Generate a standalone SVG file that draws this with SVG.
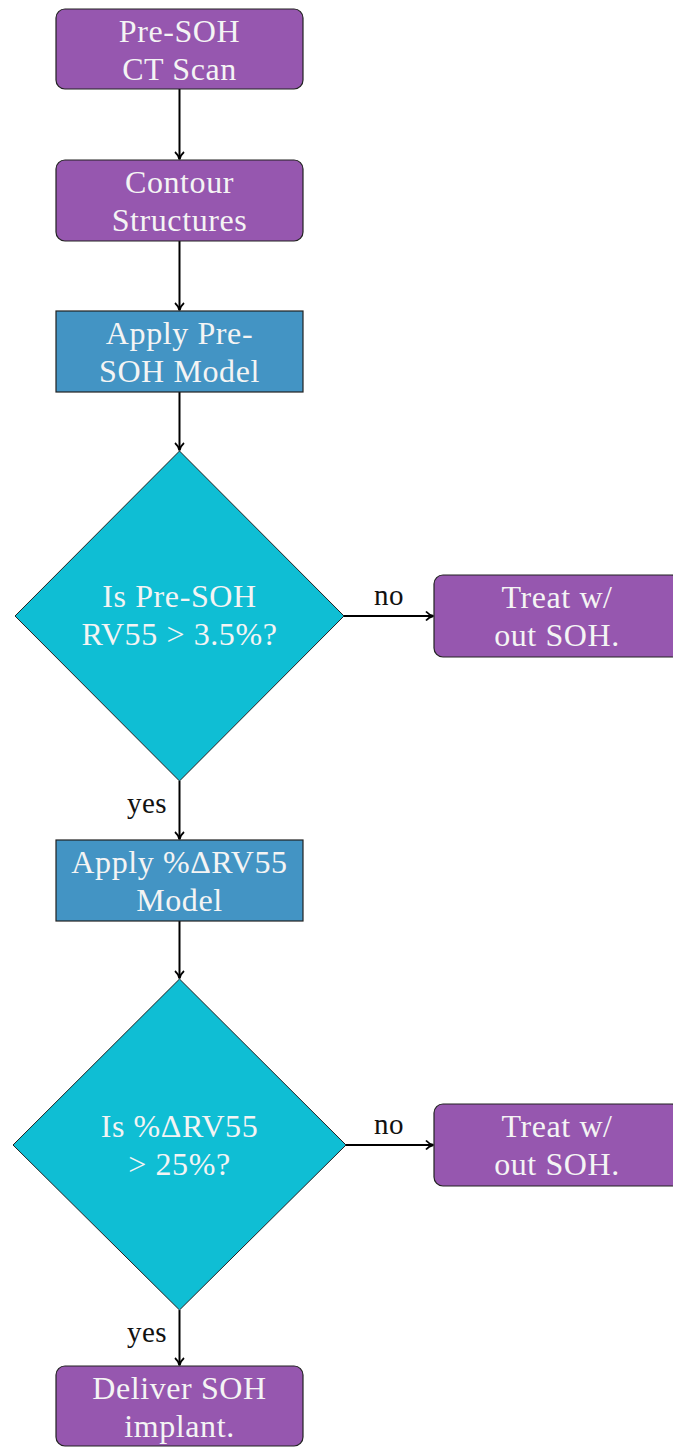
<svg xmlns="http://www.w3.org/2000/svg" width="673" height="1450" viewBox="0 0 673 1450">
<style>
.p{fill:#9657AF;stroke:#222;stroke-width:1.2}
.b{fill:#4394C4;stroke:#222;stroke-width:1.2}
.d{fill:#0FBED4;stroke:#222;stroke-width:1}
.t{font-family:'Liberation Serif','Times New Roman','DejaVu Serif',serif;font-size:32px;letter-spacing:0.6px;fill:#F4F4F4;text-anchor:middle}
.l{font-family:'Liberation Serif','Times New Roman','DejaVu Serif',serif;font-size:29px;letter-spacing:0.4px;fill:#111;text-anchor:middle}
.c{stroke:#000;stroke-width:2;fill:none}
</style>
<defs>
<marker id="ah" markerWidth="12" markerHeight="12" refX="9" refY="6" orient="auto" markerUnits="userSpaceOnUse">
<path d="M2,1.5 Q5,5 9.5,6 Q5,7 2,10.5" fill="none" stroke="#000" stroke-width="1.8"/>
</marker>
</defs>
<g id="connectors">
<line class="c" x1="179.5" y1="89" x2="179.5" y2="159" marker-end="url(#ah)"/>
<line class="c" x1="179.5" y1="241" x2="179.5" y2="310" marker-end="url(#ah)"/>
<line class="c" x1="179.5" y1="392" x2="179.5" y2="450" marker-end="url(#ah)"/>
<line class="c" x1="344" y1="616" x2="433" y2="616" marker-end="url(#ah)"/>
<line class="c" x1="179.5" y1="781" x2="179.5" y2="839" marker-end="url(#ah)"/>
<line class="c" x1="179.5" y1="921" x2="179.5" y2="978" marker-end="url(#ah)"/>
<line class="c" x1="346" y1="1145" x2="433" y2="1145" marker-end="url(#ah)"/>
<line class="c" x1="179.5" y1="1310" x2="179.5" y2="1365" marker-end="url(#ah)"/>
<text class="l" x="389" y="605">no</text>
<text class="l" x="147" y="813">yes</text>
<text class="l" x="389" y="1134">no</text>
<text class="l" x="147" y="1342">yes</text>
</g>
<g id="n1"><rect class="p" x="56" y="9" width="247" height="80" rx="9"/><text class="t" x="179.5" y="42">Pre-SOH</text><text class="t" x="179.5" y="80">CT Scan</text></g>
<g id="n2"><rect class="p" x="56" y="160" width="247" height="81" rx="9"/><text class="t" x="179.5" y="193">Contour</text><text class="t" x="179.5" y="231">Structures</text></g>
<g id="n3"><rect class="b" x="56" y="311" width="247" height="81"/><text class="t" x="179.5" y="344">Apply Pre-</text><text class="t" x="179.5" y="382">SOH Model</text></g>
<g id="n4"><polygon class="d" points="179.5,451 344,616 179.5,781 15,616"/><text class="t" x="179.5" y="607">Is Pre-SOH</text><text class="t" x="179.5" y="645">RV55 &gt; 3.5%?</text></g>
<g id="n5"><rect class="p" x="434" y="575" width="246" height="82" rx="9"/><text class="t" x="557" y="608">Treat w/</text><text class="t" x="557" y="646">out SOH.</text></g>
<g id="n6"><rect class="b" x="56" y="840" width="247" height="81"/><text class="t" x="179.5" y="873">Apply %ΔRV55</text><text class="t" x="179.5" y="911">Model</text></g>
<g id="n7"><polygon class="d" points="179.5,979 346,1145 179.5,1310 13,1145"/><text class="t" x="179.5" y="1137">Is %ΔRV55</text><text class="t" x="179.5" y="1175">&gt; 25%?</text></g>
<g id="n8"><rect class="p" x="434" y="1104" width="246" height="82" rx="9"/><text class="t" x="557" y="1137">Treat w/</text><text class="t" x="557" y="1175">out SOH.</text></g>
<g id="n9"><rect class="p" x="56" y="1366" width="247" height="80" rx="9"/><text class="t" x="179.5" y="1399">Deliver SOH</text><text class="t" x="179.5" y="1437">implant.</text></g>
</svg>
